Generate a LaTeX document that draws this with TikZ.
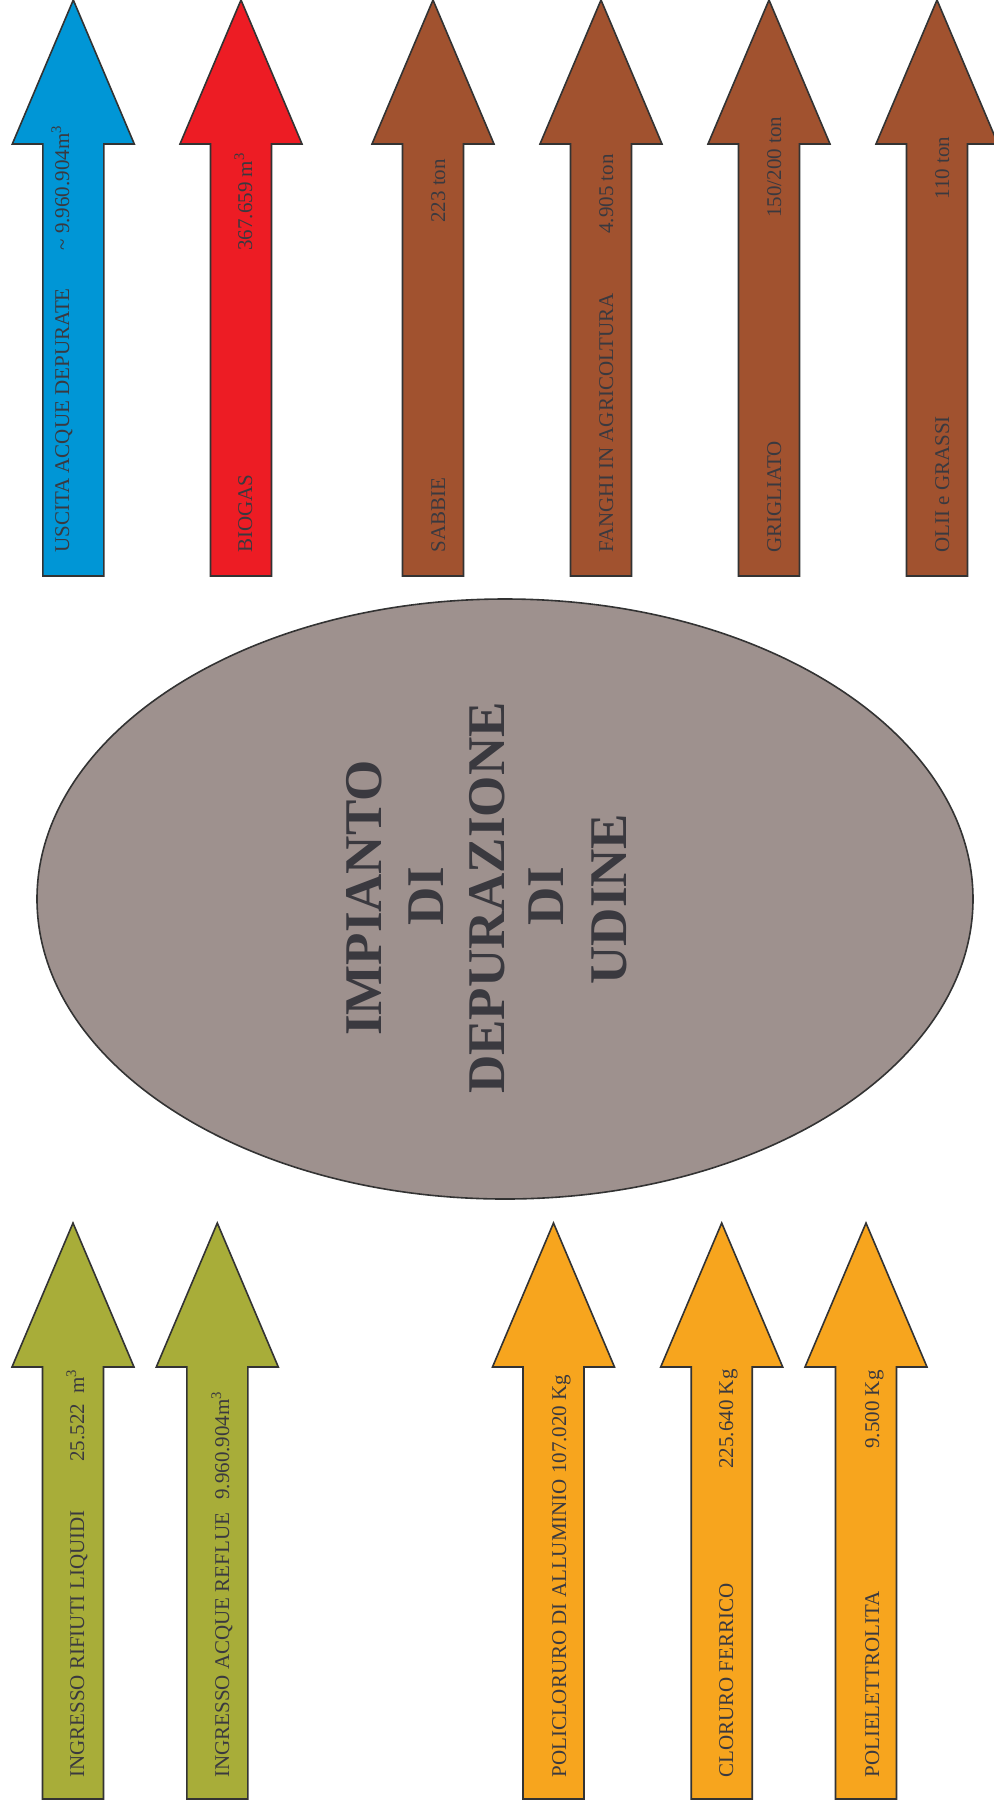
\documentclass[tikz,border=0pt]{standalone}
\usepackage{fontspec}
\setmainfont{Liberation Serif}
\usetikzlibrary{shapes.geometric}

\definecolor{flowblue}{HTML}{0096D6}
\definecolor{flowred}{HTML}{ED1C24}
\definecolor{flowbrown}{HTML}{A1522F}
\definecolor{flowolive}{HTML}{A8AD39}
\definecolor{floworange}{HTML}{F7A51E}
\definecolor{plantfill}{HTML}{9E918E}
\definecolor{inkgray}{HTML}{3A393F}
\definecolor{edgegray}{HTML}{333333}

% block arrow pointing up: centre x, tip y, fill colour
\newcommand{\flowarrow}[3]{%
  \filldraw[arrowline,fill=#3] (#1,#2) -- ++(61,144) -- ++(-30.5,0) -- ++(0,432)
    -- ++(-61,0) -- ++(0,-432) -- ++(-30.5,0) -- cycle;}

\begin{document}
\begin{tikzpicture}[x=0.5pt,y=-0.5pt,
  arrowline/.style={draw=edgegray,line width=0.8pt,line join=miter},
  lbl/.style={rotate=90,anchor=base west,inner sep=0pt,text=inkgray,
    font=\fontsize{10.5pt}{12pt}\selectfont},
  title/.style={rotate=90,anchor=base,inner sep=0pt,text=inkgray,
    font=\fontsize{26.5pt}{30pt}\selectfont\bfseries}]

\useasboundingbox (0,0) rectangle (993,1811);

% outputs
\flowarrow{73.3}{0}{flowblue}
\flowarrow{241}{0}{flowred}
\flowarrow{433}{0}{flowbrown}
\flowarrow{601}{0}{flowbrown}
\flowarrow{769}{0}{flowbrown}
\flowarrow{937}{0}{flowbrown}

% inputs
\flowarrow{73}{1223}{flowolive}
\flowarrow{217.3}{1223}{flowolive}
\flowarrow{553.5}{1223}{floworange}
\flowarrow{721.7}{1223}{floworange}
\flowarrow{866}{1223}{floworange}

% treatment plant
\node[ellipse,draw=edgegray,line width=0.8pt,fill=plantfill,
  minimum width=468pt,minimum height=300pt,inner sep=0pt] (plant) at (505,899) {};
\node[title] (t1) at (381,898) {IMPIANTO};
\node[title] (t2) at (443,896) {DI};
\node[title] (t3) at (504.6,898) {DEPURAZIONE};
\node[title] (t4) at (563.5,896) {DI};
\node[title] (t5) at (626,899) {UDINE};

% output labels
\node[lbl] (o1l) at (69,553) {USCITA ACQUE DEPURATE};
\node[lbl] (o1v) at (69,251) {\textasciitilde\ 9.960.904m\textsuperscript{3}};
\node[lbl] (o2l) at (252,553) {BIOGAS};
\node[lbl] (o2v) at (252,251) {367.659 m\textsuperscript{3}};
\node[lbl] (o3l) at (445,553) {SABBIE};
\node[lbl] (o3v) at (445,223) {223 ton};
\node[lbl] (o4l) at (613,553) {FANGHI IN AGRICOLTURA};
\node[lbl] (o4v) at (613,234) {4.905 ton};
\node[lbl] (o5l) at (781,553) {GRIGLIATO};
\node[lbl] (o5v) at (781,218) {150/200 ton};
\node[lbl] (o6l) at (949,553) {OLII e GRASSI};
\node[lbl] (o6v) at (949,200) {110 ton};

% input labels
\node[lbl] (i1l) at (84,1778) {INGRESSO RIFIUTI LIQUIDI};
\node[lbl] (i1v) at (84,1462) {25.522\ \ m\textsuperscript{3}};
\node[lbl] (i2l) at (229,1778) {INGRESSO ACQUE REFLUE};
\node[lbl] (i2v) at (229,1500) {9.960.904m\textsuperscript{3}};
\node[lbl] (i3l) at (566,1778) {POLICLORURO DI ALLUMINIO 107.020 Kg};
\node[lbl] (i4l) at (733,1778) {CLORURO FERRICO};
\node[lbl] (i4v) at (733,1469) {225.640 Kg};
\node[lbl] (i5l) at (879,1778) {POLIELETTROLITA};
\node[lbl] (i5v) at (879,1449) {9.500 Kg};

\end{tikzpicture}
\end{document}
